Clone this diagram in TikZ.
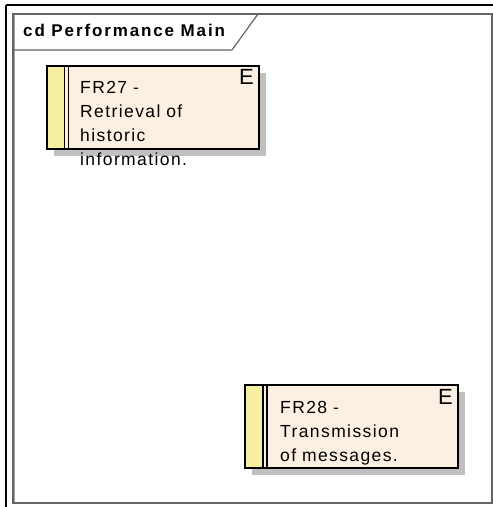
\documentclass[tikz,border=0pt]{standalone}
\usepackage{fontspec}
\setmainfont{Liberation Sans}
\newfontfamily\eafont[LetterSpace=8]{Liberation Sans}
\newfontfamily\eabold[LetterSpace=11]{Liberation Sans Bold}
\definecolor{cream}{RGB}{251,240,225}
\definecolor{stripyellow}{RGB}{245,240,160}
\definecolor{shadowgray}{RGB}{192,192,192}
\definecolor{framegray}{RGB}{100,100,100}
\tikzset{
  elembox/.style={draw=black, line width=1.2bp, fill=cream},
  elemshadow/.style={fill=shadowgray, draw=none},
  elemtext/.style={anchor=base west, inner sep=0pt, text width=200bp, align=left,
     font=\eafont\fontsize{17.5bp}{24bp}\selectfont},
  stereo/.style={anchor=north east, inner sep=0pt, font=\fontsize{22bp}{22bp}\selectfont},
  framebox/.style={draw=framegray, line width=1.2bp},
}
\begin{document}
\begin{tikzpicture}[x=1bp,y=-1bp]
\useasboundingbox (0,0) rectangle (493,507);
% outer black lines
\draw[line width=2.5bp] (6,5) -- (493,5);
\draw[line width=2.5bp] (6,5) -- (6,507);
% frame
\draw[framebox] (13,14) rectangle (492,503);
\draw[draw=gray!70, line width=1bp] (14.5,15) -- (14.5,502);
\draw[framebox] (13,50) -- (232,50) -- (258,14);
\node[anchor=base west, inner sep=0pt, font=\eabold\fontsize{17bp}{17bp}\selectfont] (title) at (23,37) {cd Performance Main};

% FR27
\fill[elemshadow] (54,73) rectangle (266,156);
\draw[elembox] (47,66) rectangle (259,149);
\fill[stripyellow] (47,66) rectangle (64.5,149);
\draw[black, line width=1.2bp] (47,66) rectangle (259,149);
\draw[black, line width=1.2bp] (64.5,66) -- (64.5,149);
\draw[black, line width=1.2bp] (68.5,66) -- (68.5,149);
\node[stereo] (e27) at (254,69) {E};
\node[elemtext] (fr27) at (80,94) {FR27 -\\Retrieval of\\historic\\information.};

% FR28
\fill[elemshadow] (252,392) rectangle (465,475);
\draw[elembox] (245,385) rectangle (458,468);
\fill[stripyellow] (245,385) rectangle (263,468);
\draw[black, line width=1.2bp] (245,385) rectangle (458,468);
\draw[black, line width=1.2bp] (263,385) -- (263,468);
\draw[black, line width=1.2bp] (267,385) -- (267,468);
\node[stereo] (e28) at (453,389) {E};
\node[elemtext] (fr28) at (280,413) {FR28 -\\Transmission\\of messages.};
\end{tikzpicture}
\end{document}
